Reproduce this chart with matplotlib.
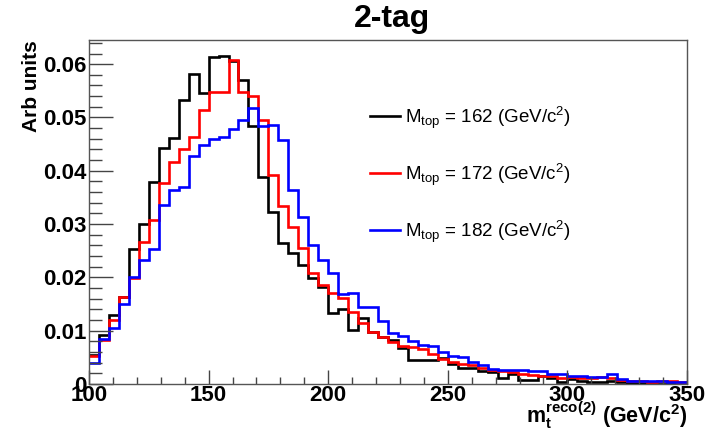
import numpy as np
import matplotlib
matplotlib.use("Agg")
import matplotlib.pyplot as plt
from matplotlib.ticker import MultipleLocator, FixedLocator

plt.rcParams['font.family'] = ['Liberation Sans', 'DejaVu Sans']
plt.rcParams['mathtext.fontset'] = 'custom'
plt.rcParams['mathtext.rm'] = 'Liberation Sans'
plt.rcParams['mathtext.it'] = 'Liberation Sans'
plt.rcParams['mathtext.bf'] = 'Liberation Sans:bold'

# ---- data -------------------------------------------------------------
x_min, x_max, n_bins = 100, 350, 60

m162 = [0.0055, 0.0092, 0.0129, 0.0164, 0.0254, 0.0301, 0.0379, 0.0442, 0.0461, 0.0533,
        0.0581, 0.0546, 0.0614, 0.0616, 0.0606, 0.0570, 0.0484, 0.0389, 0.0322, 0.0265,
        0.0246, 0.0223, 0.0198, 0.0182, 0.0133, 0.0140, 0.0101, 0.0123, 0.0098, 0.0088,
        0.0082, 0.0067, 0.0045, 0.0045, 0.0045, 0.0048, 0.0038, 0.0031, 0.0031, 0.0024,
        0.0022, 0.0012, 0.0018, 0.0008, 0.0007, 0.0015, 0.0012, 0.0004, 0.0009, 0.0005,
        0.0004, 0.0004, 0.0006, 0.0003, 0.0002, 0.0002, 0.0002, 0.0001, 0.0002, 0.0001]

m172 = [0.0052, 0.0083, 0.0120, 0.0164, 0.0198, 0.0266, 0.0308, 0.0377, 0.0417, 0.0440,
        0.0464, 0.0514, 0.0548, 0.0548, 0.0608, 0.0548, 0.0540, 0.0496, 0.0393, 0.0334,
        0.0295, 0.0256, 0.0209, 0.0186, 0.0170, 0.0161, 0.0136, 0.0114, 0.0097, 0.0089,
        0.0078, 0.0072, 0.0069, 0.0065, 0.0056, 0.0047, 0.0041, 0.0038, 0.0036, 0.0030,
        0.0027, 0.0024, 0.0022, 0.0018, 0.0017, 0.0015, 0.0016, 0.0012, 0.0013, 0.0012,
        0.0011, 0.0014, 0.0012, 0.0007, 0.0005, 0.0005, 0.0004, 0.0006, 0.0005, 0.0004]

m182 = [0.0040, 0.0084, 0.0106, 0.0151, 0.0200, 0.0233, 0.0254, 0.0336, 0.0364, 0.0370,
        0.0428, 0.0448, 0.0459, 0.0464, 0.0478, 0.0495, 0.0518, 0.0484, 0.0485, 0.0458,
        0.0364, 0.0313, 0.0261, 0.0233, 0.0209, 0.0169, 0.0171, 0.0144, 0.0144, 0.0118,
        0.0096, 0.0090, 0.0081, 0.0073, 0.0071, 0.0060, 0.0052, 0.0050, 0.0042, 0.0035,
        0.0029, 0.0027, 0.0027, 0.0026, 0.0025, 0.0024, 0.0019, 0.0019, 0.0016, 0.0015,
        0.0013, 0.0013, 0.0019, 0.0009, 0.0006, 0.0005, 0.0005, 0.0005, 0.0004, 0.0004]

labels = [r'M$_{\rm top}$ = 162 (GeV/c$^{2}$)',
          r'M$_{\rm top}$ = 172 (GeV/c$^{2}$)',
          r'M$_{\rm top}$ = 182 (GeV/c$^{2}$)']
colors = ['#000000', '#ff0000', '#0000ff']

x_ticks = [100, 150, 200, 250, 300, 350]
y_ticks = [0, 0.01, 0.02, 0.03, 0.04, 0.05, 0.06]
y_tick_labels = ['0', '0.01', '0.02', '0.03', '0.04', '0.05', '0.06']

# ---- figure -----------------------------------------------------------
fig = plt.figure(figsize=(7.09, 4.32), dpi=100)
ax = fig.add_axes([0.1255, 0.111, 0.8435, 0.796])

edges = np.linspace(x_min, x_max, n_bins + 1)
for vals, c, lab in zip([m162, m172, m182], colors, labels):
    ax.stairs(vals, edges, color=c, lw=1.9, label=lab, baseline=None)

ax.set_xlim(x_min, x_max)
ax.set_ylim(0, 0.0645)

ax.xaxis.set_major_locator(FixedLocator(x_ticks))
ax.xaxis.set_minor_locator(MultipleLocator(10))
ax.yaxis.set_major_locator(FixedLocator(y_ticks))
ax.yaxis.set_minor_locator(MultipleLocator(0.002))
ax.set_yticklabels(y_tick_labels)

ax.tick_params(axis='both', which='both', direction='in', top=False, right=False,
               colors='#444444', labelcolor='black', width=1.0)
ax.tick_params(axis='x', which='major', length=10, labelsize=16, pad=1)
ax.tick_params(axis='x', which='minor', length=5)
ax.tick_params(axis='y', which='major', length=17, labelsize=16, pad=2)
ax.tick_params(axis='y', which='minor', length=9)
for lbl in ax.get_xticklabels() + ax.get_yticklabels():
    lbl.set_fontweight('bold')

for s in ax.spines.values():
    s.set_color('#555555')
    s.set_linewidth(1.0)

fig.text(0.553, 0.955, '2-tag', ha='center', va='center', fontsize=23, fontweight='bold')
fig.text(0.045, 0.907, 'Arb units', rotation=90, ha='center', va='top',
         fontsize=15, fontweight='bold')
fig.text(0.969, 0.002,
         r'$\mathbf{m}_{\mathbf{t}}^{\mathbf{reco(2)}}$ (GeV/c$^{\mathbf{2}}$)',
         ha='right', va='bottom', fontsize=15.5, fontweight='bold')

ax.legend(loc='upper left', bbox_to_anchor=(0.457, 0.835), frameon=False,
          fontsize=13.5, handlelength=1.6, handletextpad=0.3, labelspacing=1.64,
          borderaxespad=0)

fig.savefig('out.png', dpi=100)
